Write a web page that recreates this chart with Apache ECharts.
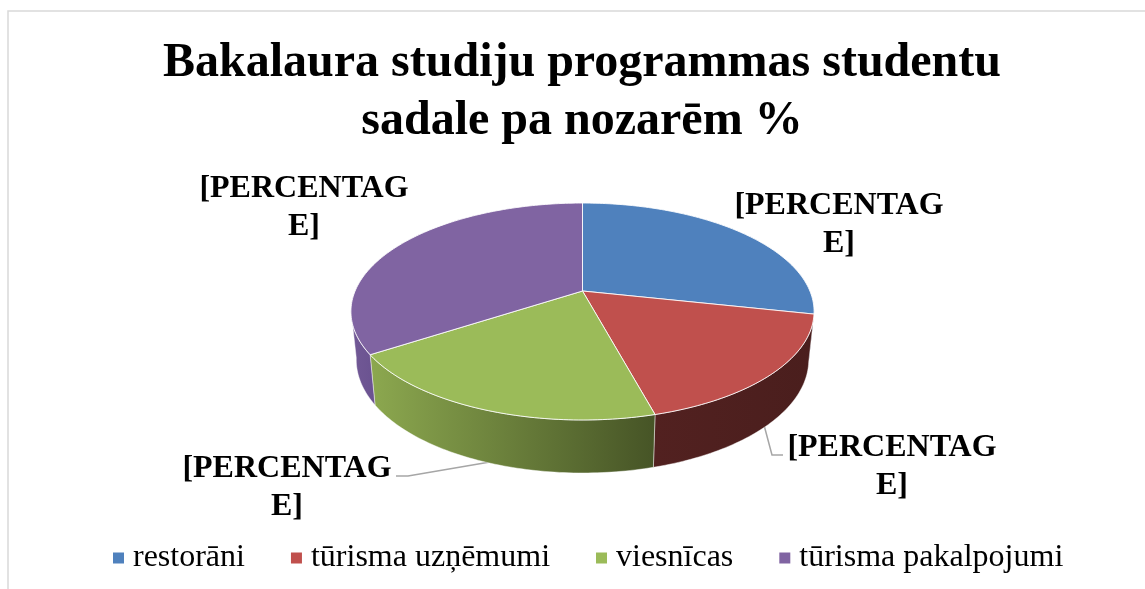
<!DOCTYPE html>
<html>
<head>
<meta charset="utf-8">
<style>html,body{margin:0;padding:0;background:#fff}#c{width:1145px;height:589px}</style>
<script src="https://cdn.jsdelivr.net/npm/echarts@6/dist/echarts.min.js"></script>
</head>
<body>
<div id="c"></div>
<script>
const categories = ['restorāni', 'tūrisma uzņēmumi', 'viesnīcas', 'tūrisma pakalpojumi'];
const shares = [28.4, 17.4, 20.0, 34.2];
const sliceLabels = ['[PERCENTAG\nE]', '[PERCENTAG\nE]', '[PERCENTAG\nE]', '[PERCENTAG\nE]'];
const topColors = ['#4f81bd', '#c0504d', '#9bbb59', '#8064a2'];
const wallColors = [['#3a5f8c', '#3a5f8c'], ['#522120', '#4a1e1d'], ['#8ca84f', '#465426'], ['#725996', '#6a5290']];
const titleText = 'Bakalaura studiju programmas studentu\nsadale pa nozarēm %';

// Projection of the tilted disc
const P = {cx: 582.5, cy: 291, a: 227.4, b: 104.6, k: 0.189, wallX: 0.977, wallBase: 47, wallFront: 6, visFrom: 100, visTo: 260};
const labelPos = [[839, 187], [892, 429], [287, 450], [304, 170]];
const leaders = [null, [[764, 425], [772, 455], [783, 455]], [[490, 462], [408, 476], [396, 476]], null];

const total = shares.reduce((s, v) => s + v, 0);
function startAngle(i) { let s = 0; for (let j = 0; j < i; j++) s += shares[j]; return s / total * 360; }
function rim(deg) {
  const t = deg * Math.PI / 180, x = Math.sin(t), y = -Math.cos(t), w = 1 - P.k * y;
  return {X: P.cx + P.a * x / w, Y: P.cy + P.b * y / w, y};
}
function lower(p) { return [P.cx + P.wallX * (p.X - P.cx), p.Y + P.wallBase + P.wallFront * p.y]; }
function range(a, b) { const out = []; for (let d = a; d < b; d += 1) out.push(d); out.push(b); return out; }

function renderSlice(params) {
  const i = params.seriesIndex, a0 = startAngle(i), a1 = a0 + shares[i] / total * 360;
  const children = [];
  if (leaders[i]) children.push({type: 'polyline', z2: 1, shape: {points: leaders[i]}, style: {fill: 'none', stroke: '#a6a6a6', lineWidth: 1.5}});
  const w0 = Math.max(a0, P.visFrom), w1 = Math.min(a1, P.visTo);
  if (w1 > w0) {
    const rimPts = range(w0, w1).map(rim);
    const pts = rimPts.map(p => [p.X, p.Y]).concat(rimPts.slice().reverse().map(lower));
    const xs = pts.map(p => p[0]);
    const minX = Math.min(...xs), maxX = Math.max(...xs);
    children.push({type: 'polygon', z2: 2, shape: {points: pts}, style: {
      fill: new echarts.graphic.LinearGradient(minX, 0, maxX, 0, [{offset: 0, color: wallColors[i][0]}, {offset: 1, color: wallColors[i][1]}], true),
      stroke: 'rgba(255,255,255,0.55)', lineWidth: 0.8, lineJoin: 'round'}});
  }
  const face = [[P.cx, P.cy]].concat(range(a0, a1).map(rim).map(p => [p.X, p.Y]));
  children.push({type: 'polygon', z2: 3, shape: {points: face}, style: {fill: topColors[i], stroke: 'rgba(255,255,255,0.85)', lineWidth: 1, lineJoin: 'round'}});
  children.push({type: 'text', z2: 4, style: {text: sliceLabels[i], x: labelPos[i][0], y: labelPos[i][1], align: 'center', verticalAlign: 'top', fill: '#000', font: 'bold 32px "Liberation Serif"', lineHeight: 37.5}});
  return {type: 'group', children};
}

const chart = echarts.init(document.getElementById('c'), null, {renderer: 'canvas'});
chart.setOption({
  animation: false,
  backgroundColor: '#fff',
  color: topColors,
  title: {text: titleText, left: 577, top: 30, textAlign: 'center', textStyle: {fontFamily: 'Liberation Serif', fontWeight: 'bold', fontSize: 48, lineHeight: 58, color: '#000'}},
  legend: {left: 113, top: 542, padding: 0, itemWidth: 11, itemHeight: 11, itemGap: 46, icon: 'rect', data: categories, textStyle: {fontFamily: 'Liberation Serif', fontSize: 32, color: '#000', padding: [0, 0, 0, 4]}},
  graphic: [{type: 'rect', silent: true, z: -1, shape: {x: 8, y: 11, width: 1300, height: 800}, style: {fill: 'none', stroke: '#d9d9d9', lineWidth: 1.5}}],
  series: categories.map((name, i) => ({type: 'custom', name, coordinateSystem: 'none', itemStyle: {color: topColors[i]}, renderItem: renderSlice, data: [[shares[i]]]}))
});
</script>
</body>
</html>
